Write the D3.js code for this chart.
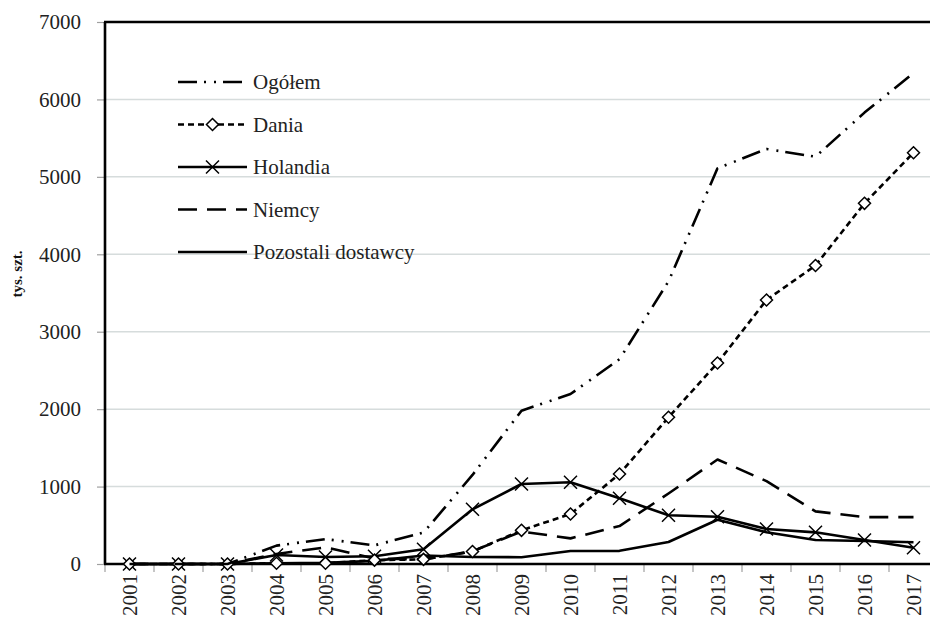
<!DOCTYPE html>
<html>
<head>
<meta charset="utf-8">
<script src="https://cdn.jsdelivr.net/npm/d3@7"></script>
<style>
  html, body { margin: 0; padding: 0; background: #fff; }
  svg { display: block; }
</style>
</head>
<body>
<div id="chart"></div>
<script>
const years = ["2001","2002","2003","2004","2005","2006","2007","2008","2009","2010","2011","2012","2013","2014","2015","2016","2017"];
const ogolem    = [0,0,0,237,322,241,405,1150,1980,2195,2645,3650,5110,5360,5260,5830,6340];
const dania     = [0,0,0,10,10,50,60,162,435,646,1162,1895,2596,3410,3855,4658,5312];
const holandia  = [0,0,0,116,90,100,190,706,1033,1055,848,630,611,452,409,310,211];
const niemcy    = [0,0,0,130,215,70,60,165,420,331,490,910,1350,1070,680,605,605];
const pozostali = [0,0,0,10,15,40,110,90,88,168,170,284,572,409,310,297,280];
const yTicks = [0,1000,2000,3000,4000,5000,6000,7000];
const seriesNames = ["Ogółem","Dania","Holandia","Niemcy","Pozostali dostawcy"];
const yLabel = "tys. szt.";

(function () {
const FONT = "'Liberation Serif', 'Times New Roman', 'DejaVu Serif', serif";
const W = 930, H = 619;
const pLeft = 105, pRight = 938, pTop = 22, pBottom = 564;

const svg = d3.select("#chart").append("svg").attr("width", W).attr("height", H)
  .style("font-family", FONT);

const x = d3.scalePoint().domain(years).range([pLeft, pRight]).padding(0.5);
const y = d3.scaleLinear().domain([0, 7000]).range([pBottom, pTop]);

// gridlines
svg.append("g").selectAll("line").data(yTicks.filter(d => d > 0 && d < 7000)).join("line")
  .attr("x1", pLeft).attr("x2", W).attr("y1", d => y(d)).attr("y2", d => y(d))
  .attr("stroke", "#d6dcdc").attr("stroke-width", 1.5);

// y axis
const yAxis = svg.append("g").attr("transform", `translate(${pLeft},0)`)
  .call(d3.axisLeft(y).tickValues(yTicks).tickSize(8).tickPadding(16).tickFormat(d3.format("d")));
yAxis.attr("font-family", null).attr("font-size", null);
yAxis.select(".domain").remove();
yAxis.selectAll(".tick line").attr("stroke", "#a0a0a0").attr("stroke-width", 1.2);
yAxis.selectAll(".tick text").style("font-family", FONT).style("font-size", "21px").attr("fill", "#222");

// x axis tick marks at band edges
const step = x.step();
const edges = years.map(d => x(d) - step / 2);
svg.append("g").selectAll("line").data(edges).join("line")
  .attr("x1", d => d).attr("x2", d => d).attr("y1", pBottom).attr("y2", pBottom + 8)
  .attr("stroke", "#a0a0a0").attr("stroke-width", 1.2);

// x labels
svg.append("g").selectAll("text").data(years).join("text")
  .attr("transform", d => `translate(${x(d)},${pBottom + 10}) rotate(-90)`)
  .attr("text-anchor", "end").attr("dy", "0.35em")
  .style("font-family", FONT).style("font-size", "21px").attr("fill", "#222").text(d => d);

// frame lines
svg.append("line").attr("x1", pLeft).attr("x2", pLeft).attr("y1", pTop).attr("y2", pBottom)
  .attr("stroke", "#000").attr("stroke-width", 2.6);
svg.append("line").attr("x1", pLeft - 1).attr("x2", W).attr("y1", pTop).attr("y2", pTop)
  .attr("stroke", "#000").attr("stroke-width", 2.6);
svg.append("line").attr("x1", pLeft - 1).attr("x2", W).attr("y1", pBottom).attr("y2", pBottom)
  .attr("stroke", "#000").attr("stroke-width", 2.6);

// y label
svg.append("text").attr("transform", `translate(22,274) rotate(-90)`)
  .attr("text-anchor", "middle")
  .style("font-family", FONT).style("font-size", "15px").style("font-weight", "bold")
  .attr("fill", "#111").text(yLabel);

const styles = [
  { data: ogolem,    dash: "19,7,2,8,2,7", marker: null },
  { data: dania,     dash: "6,4",          marker: "diamond" },
  { data: holandia,  dash: null,           marker: "x" },
  { data: niemcy,    dash: "19,10",        marker: null },
  { data: pozostali, dash: null,           marker: null }
];

const line = d3.line().x((d, i) => x(years[i])).y(d => y(d));

const drawMarker = (g, type, cx, cy) => {
  if (type === "diamond") {
    g.append("path").attr("d", `M${cx},${cy-6}L${cx+6},${cy}L${cx},${cy+6}L${cx-6},${cy}Z`)
      .attr("fill", "#fff").attr("stroke", "#000").attr("stroke-width", 1.5);
  } else if (type === "x") {
    g.append("path").attr("d", `M${cx-6.5},${cy-6.5}L${cx+6.5},${cy+6.5}M${cx-6.5},${cy+6.5}L${cx+6.5},${cy-6.5}`)
      .attr("fill", "none").attr("stroke", "#000").attr("stroke-width", 1.5);
  }
};

const plot = svg.append("g");
[4,3,2,1,0].forEach(k => {
  const s = styles[k];
  plot.append("path").datum(s.data).attr("d", line)
    .attr("fill", "none").attr("stroke", "#000").attr("stroke-width", 2.6)
    .attr("stroke-linejoin", "round")
    .attr("stroke-dasharray", s.dash);
  if (s.marker) {
    const mg = plot.append("g");
    s.data.forEach((v, i) => drawMarker(mg, s.marker, x(years[i]), y(v)));
  }
});

// legend
const legY = [82, 124.5, 167, 209.5, 252];
const leg = svg.append("g");
seriesNames.forEach((name, k) => {
  const s = styles[k];
  const ly = legY[k];
  leg.append("line").attr("x1", 178).attr("x2", 247).attr("y1", ly).attr("y2", ly)
    .attr("stroke", "#000").attr("stroke-width", 2.6).attr("stroke-dasharray", s.dash);
  if (s.marker) drawMarker(leg, s.marker, 212.5, ly);
  leg.append("text").attr("x", 253).attr("y", ly).attr("dy", "0.35em")
    .style("font-family", FONT).style("font-size", "21px").attr("fill", "#222").text(name);
});
})();
</script>
</body>
</html>
